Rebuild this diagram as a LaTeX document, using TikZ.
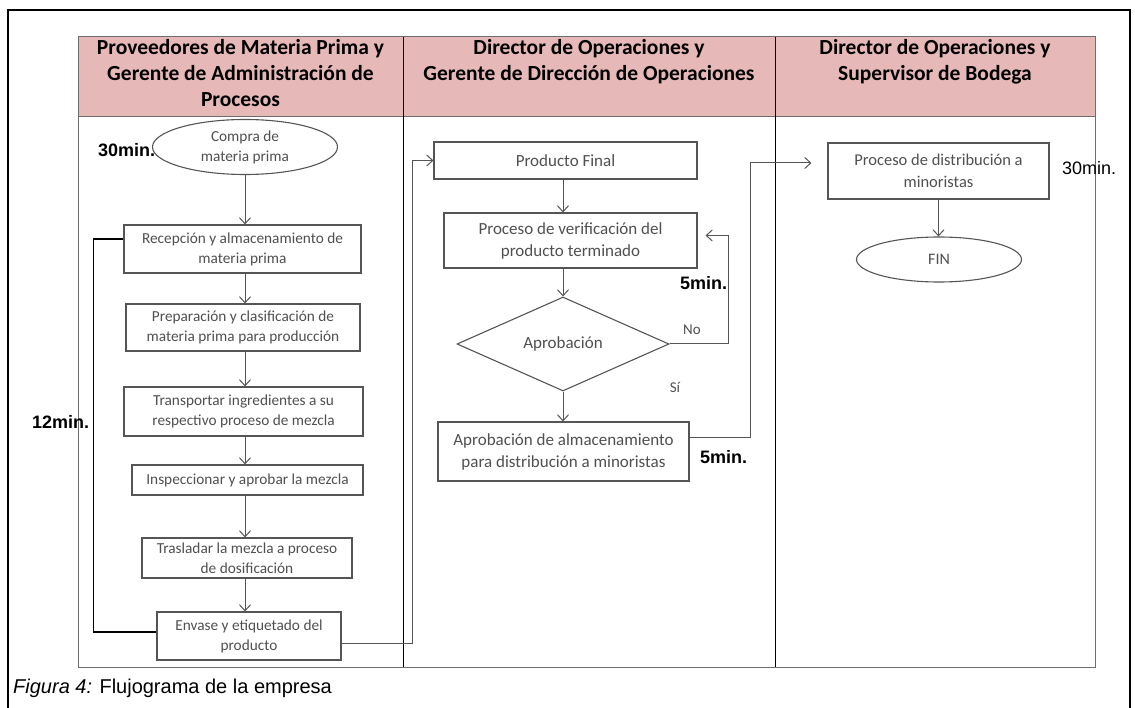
\documentclass[tikz,border=0pt]{standalone}
\usepackage{fontspec}
\setmainfont{Carlito}
\newfontfamily\arialfont{Liberation Sans}
\usetikzlibrary{positioning,shapes.geometric,arrows.meta}

\definecolor{headpink}{HTML}{E6B8B7}
\definecolor{boxline}{HTML}{555555}
\definecolor{boxtext}{HTML}{505050}
\definecolor{laneline}{HTML}{6E6E6E}

\tikzset{
  proc/.style={draw=boxline, line width=1.1pt, fill=white, rectangle, align=center,
    text=boxtext, inner sep=0pt, font=\fontsize{15.3}{20}\selectfont},
  term/.style={proc, ellipse},
  decis/.style={proc, diamond},
  bigtxt/.style={font=\fontsize{17}{22}\selectfont},
  flow/.style={draw=boxline, line width=1pt, -{Straight Barb[length=6pt,width=11pt]}},
  backline/.style={draw=black, line width=1.1pt},
  timelbl/.style={font=\arialfont\bfseries\fontsize{18}{20}\selectfont, inner sep=0pt},
  anslbl/.style={text=boxtext, font=\fontsize{15}{18}\selectfont, inner sep=0pt},
  headtxt/.style={align=center, inner sep=0pt, font=\bfseries\fontsize{21.5}{26}\selectfont}
}

\begin{document}
\begin{tikzpicture}[x=1pt,y=-1pt]
\useasboundingbox (0,0) rectangle (1135,708);

% outer frame
\draw[line width=2.5pt] (8,712) -- (8,10) -- (1130,10) -- (1130,712);

% swimlanes
\fill[headpink] (78,37) rectangle (1095,117);
\draw[laneline, line width=1pt] (78,37) rectangle (1095,667);
\draw[laneline, line width=1pt] (78,117) -- (1095,117);
\draw[line width=1pt] (403,37) -- (403,667);
\draw[line width=1pt] (775,37) -- (775,667);

\node[headtxt, anchor=north] (lane1) at (240.5,39) {Proveedores de Materia Prima y\\Gerente de Administración de\\Procesos};
\node[headtxt, anchor=north] (lane2) at (589,39) {Director de Operaciones y\\Gerente de Dirección de Operaciones};
\node[headtxt, anchor=north] (lane3) at (935,39) {Director de Operaciones y\\Supervisor de Bodega};

% first lane
\node[timelbl, anchor=west] (t30a) at (98,150) {30min.};
\node[term, minimum width=185pt, minimum height=55pt] (compra) at (245,147) {Compra de\\materia prima};
\node[proc, minimum width=237pt, minimum height=48pt] (recep) at (242.5,249) {Recepción y almacenamiento de\\materia prima};
\node[proc, minimum width=234pt, minimum height=47pt] (prep) at (243,327.5) {Preparación y clasificación de\\materia prima para producción};
\node[proc, minimum width=239pt, minimum height=49pt] (transp) at (243.5,411.5) {Transportar ingredientes a su\\respectivo proceso de mezcla};
\node[proc, minimum width=231pt, minimum height=30pt] (insp) at (247.5,480) {Inspeccionar y aprobar la mezcla};
\node[proc, minimum width=210pt, minimum height=40pt] (trasl) at (247,558) {Trasladar la mezcla a proceso\\de dosificación};
\node[proc, minimum width=184pt, minimum height=48pt] (envase) at (249,636) {Envase y etiquetado del\\producto};
\node[timelbl, anchor=west] (t12) at (32,422) {12min.};

\draw[flow] (compra) -- (compra |- recep.north);
\draw[flow] (recep.south -| compra) -- (prep.north -| compra);
\draw[flow] (prep.south -| compra) -- (transp.north -| compra);
\draw[flow] (transp.south -| compra) -- (insp.north -| compra);
\draw[flow] (insp.south -| compra) -- (trasl.north -| compra);
\draw[flow] (trasl.south -| compra) -- (envase.north -| compra);
\draw[backline] ([yshift=4pt]envase.west) -| ([xshift=-30pt,yshift=10pt]recep.west) -- ([yshift=10pt]recep.west);

% second lane
\node[proc, bigtxt, minimum width=263pt, minimum height=37pt] (prodfin) at (565.5,160.5) {Producto Final};
\node[proc, bigtxt, minimum width=253pt, minimum height=55pt] (verif) at (570.5,240.5) {Proceso de verificación del\\producto terminado};
\node[decis, bigtxt, minimum width=212pt, minimum height=77pt] (aprob) at (563,344) {Aprobación};
\node[proc, bigtxt, minimum width=251pt, minimum height=59pt] (almac) at (563.5,451.5) {Aprobación de almacenamiento\\para distribución a minoristas};
\node[timelbl, anchor=west] (t5a) at (680,283) {5min.};
\node[anslbl] (no) at (692,330) {No};
\node[anslbl] (si) at (675,387) {Sí};
\node[timelbl, anchor=west] (t5b) at (700,457) {5min.};

\draw[flow] ([yshift=-7pt]envase.east) -| ([xshift=-21pt]prodfin.west) -- (prodfin.west);
\draw[flow] (prodfin.south -| aprob) -- (verif.north -| aprob);
\draw[flow] (verif.south -| aprob) -- (aprob.north);
\draw[flow] (aprob.south) -- (almac.north -| aprob);
\draw[flow] (aprob.east) -| ([xshift=31pt,yshift=5pt]verif.east) -- ([xshift=8pt,yshift=5pt]verif.east);

% third lane
\node[proc, font=\fontsize{16.5}{22}\selectfont, minimum width=221pt, minimum height=56pt] (dist) at (938.5,171) {Proceso de distribución a\\minoristas};
\node[term, font=\fontsize{16}{21}\selectfont, minimum width=165pt, minimum height=45pt] (fin) at (939,259.5) {FIN};
\node[timelbl, font=\arialfont\fontsize{18}{20}\selectfont, anchor=west] (t30b) at (1062,168) {30min.};

\draw[flow] ([yshift=14pt]almac.east) -| ([xshift=-77pt,yshift=8pt]dist.west) -- ([xshift=-16pt,yshift=8pt]dist.west);
\draw[flow] (dist) -- (dist |- fin.north);

% caption
\node[anchor=base west, inner sep=0pt, font=\arialfont\fontsize{20}{22}\selectfont] (caption) at (13,693) {\textit{Figura 4:} Flujograma de la empresa};
\end{tikzpicture}
\end{document}
